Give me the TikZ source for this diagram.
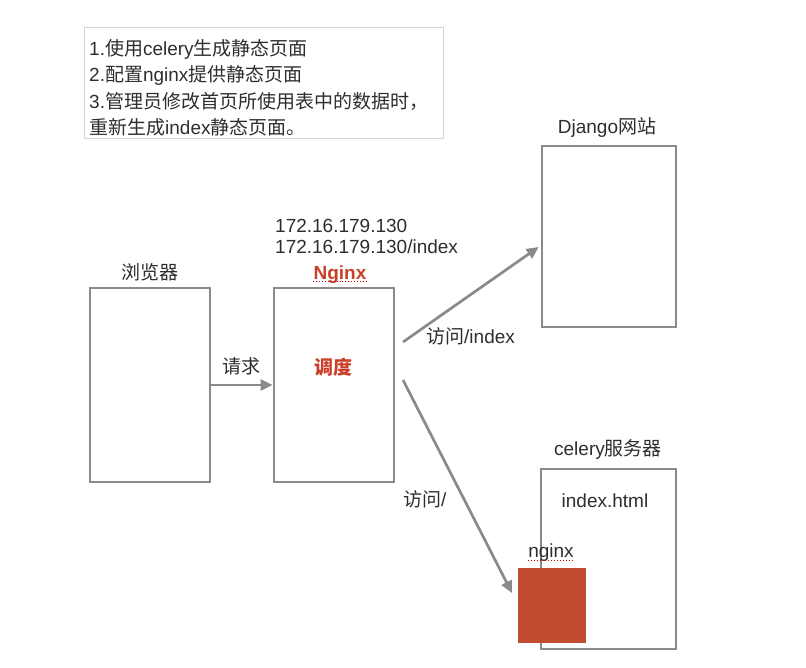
\documentclass[tikz,border=0pt]{standalone}
\usepackage{fontspec}
\setmainfont{Liberation Sans}
\newfontfamily\cjk{Noto Sans CJK SC}
\newcommand\zh[1]{{\cjk #1}}
\usetikzlibrary{arrows.meta}
\definecolor{linegray}{HTML}{8A8A8A}
\definecolor{txtgray}{HTML}{2E2E2E}
\definecolor{redtxt}{HTML}{C8402A}
\definecolor{redfill}{HTML}{C04B31}
\definecolor{notegray}{HTML}{D2D2D2}
\tikzset{
  box/.style={draw=linegray, line width=2.7pt, fill=white, rectangle, inner sep=0pt},
  lbl/.style={text=txtgray, font=\fontsize{19}{23}\selectfont, inner sep=0pt},
  redlbl/.style={text=redtxt, font=\fontsize{19}{23}\selectfont\bfseries, inner sep=0pt},
  arr/.style={draw=linegray, line width=2.7pt, -{Triangle[length=12pt,width=11pt]}},
  spell/.style={draw=red!80!black, line width=0.9pt, dotted},
}
\begin{document}
\begin{tikzpicture}[x=1pt,y=-1pt]
\useasboundingbox[fill=white] (0,0) rectangle (806,667);
% note box
\node[draw=notegray, line width=1pt, fill=white, minimum width=359pt, minimum height=111pt, inner sep=0pt] (note) at (263.5,82.5) {};
\node[lbl, anchor=base west] (n1) at (89,55) {1.\zh{使用}celery\zh{生成静态页面}};
\node[lbl, anchor=base west] (n2) at (89,81) {2.\zh{配置}nginx\zh{提供静态页面}};
\node[lbl, anchor=base west] (n3) at (89,108) {3.\zh{管理员修改首页所使用表中的数据时，}};
\node[lbl, anchor=base west] (n4) at (89,134) {\zh{重新生成}index\zh{静态页面。}};
% boxes
\node[box, minimum width=120pt, minimum height=194pt] (browser) at (150,385) {};
\node[box, minimum width=120pt, minimum height=194pt] (nginx) at (334,385) {};
\node[box, minimum width=134pt, minimum height=181pt] (django) at (609,236.5) {};
\node[box, minimum width=135pt, minimum height=180pt] (celery) at (608.5,559) {};
% labels
\node[lbl, anchor=base] (lbrowser) at (150,279) {\zh{浏览器}};
\node[redlbl, anchor=base] (lnginx) at (340,279) {Nginx};
\draw[spell] ([yshift=-2.5pt]lnginx.base west) -- ([yshift=-2.5pt]lnginx.base east);
\node[redlbl, anchor=base] (ldispatch) at (333,374) {\zh{调度}};
\node[lbl, anchor=base west] (ip1) at (275,232) {172.16.179.130};
\node[lbl, anchor=base west] (ip2) at (275,253) {172.16.179.130/index};
\node[lbl, anchor=base] (ldjango) at (607,133) {Django\zh{网站}};
\node[lbl, anchor=base] (lcelery) at (608,455) {celery\zh{服务器}};
\node[lbl, anchor=base] (lindex) at (605,507) {index.html};
% arrows
\draw[arr] (browser.east) -- (nginx.west);
\node[lbl, anchor=base] (lreq) at (241,373) {\zh{请求}};
\coordinate (s1) at (403,342);
\draw[arr] (s1) -- ([yshift=-10.5pt,xshift=-2pt]django.west);
\node[lbl, anchor=base west] (lvisit1) at (426,343) {\zh{访问}/index};
% red square
\node[fill=redfill, minimum width=68pt, minimum height=75pt, inner sep=0pt] (rsq) at (552,605.5) {};
\node[lbl, anchor=base] (lsmall) at (551,557) {nginx};
\draw[spell] ([yshift=-3pt]lsmall.base west) -- ([yshift=-3pt]lsmall.base east);
\coordinate (s2) at (403,380);
\coordinate (e2) at (512,593);
\draw[arr] (s2) -- (e2);
\node[lbl, anchor=base west] (lvisit2) at (403,506) {\zh{访问}/};
\end{tikzpicture}
\end{document}
